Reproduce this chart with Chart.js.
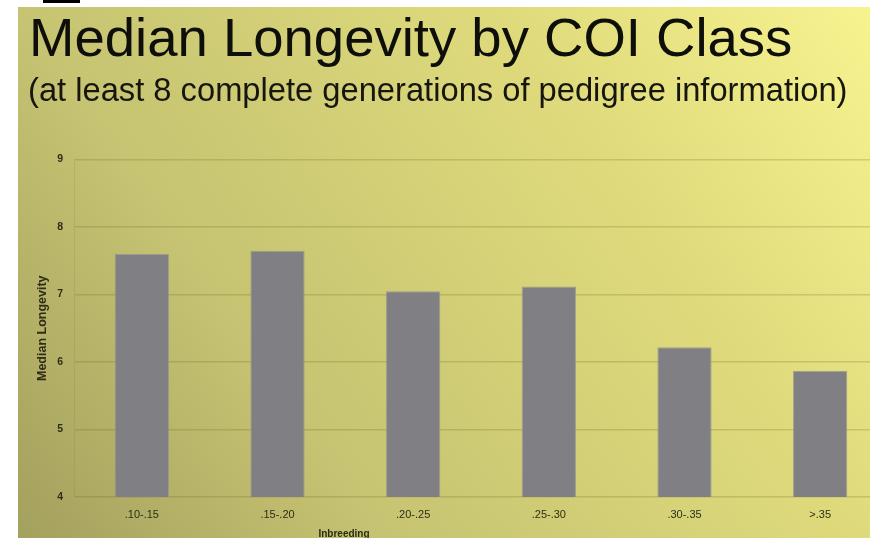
<!DOCTYPE html>
<html>
<head>
<meta charset="utf-8">
<script src="https://cdn.jsdelivr.net/npm/chart.js@4.4.1/dist/chart.umd.min.js"></script>
<style>
  html, body { margin: 0; padding: 0; background: #fff; overflow: hidden; width: 874px; height: 538px; }
  #tab { position: absolute; left: 43px; top: 0; width: 37px; height: 3px; background: #000; }
  #slide {
    position: absolute; left: 18px; top: 7px; width: 852px; height: 531px; overflow: hidden;
    background: linear-gradient(55deg, #a4a05e 0%, #c6c372 30%, #dfdb7c 70%, #f7f38f 100%);
    font-family: "Liberation Sans", Arial, sans-serif;
  }
  #title { position: absolute; left: 11px; top: 4px; font-size: 54.5px; line-height: 54px; color: #0e0e0a; white-space: nowrap; }
  #subtitle { position: absolute; left: 10px; top: 67px; font-size: 32.7px; line-height: 32px; color: #16160e; white-space: nowrap; }
  #chartBox { position: absolute; left: 0; top: 0; width: 870px; height: 531px; }
  #xTitle { position: absolute; left: 326px; top: 522px; transform: translateX(-50%); font-size: 10px; line-height: 10px; font-weight: bold; color: #2a2a14; white-space: nowrap; }
</style>
</head>
<body>
<div id="tab"></div>
<div id="slide">
  <div id="chartBox"><canvas id="chart"></canvas></div>
  <div id="title">Median Longevity by COI Class</div>
  <div id="subtitle">(at least 8 complete generations of pedigree information)</div>
  <div id="xTitle">Inbreeding</div>
</div>
<script>
// COI classes and their median longevity (years)
const categories = ['.10-.15', '.15-.20', '.20-.25', '.25-.30', '.30-.35', '>.35'];
const medianLongevity = [7.6, 7.65, 7.05, 7.12, 6.22, 5.87];
const yTicks = [4, 5, 6, 7, 8, 9];

const textColor = '#2e2e16';
const gridColor = 'rgba(100, 95, 20, 0.22)';
const family = '"Liberation Sans", Arial, sans-serif';

new Chart(document.getElementById('chart'), {
  type: 'bar',
  data: {
    labels: categories,
    datasets: [{
      data: medianLongevity,
      backgroundColor: '#7f7f84',
      borderColor: 'rgba(145, 145, 150, 0.8)',
      borderWidth: 1,
      barPercentage: 0.4,
      categoryPercentage: 1.0
    }]
  },
  options: {
    responsive: true,
    maintainAspectRatio: false,
    animation: false,
    layout: { padding: { top: 152.5, right: 0, left: 0, bottom: 0 } },
    plugins: { legend: { display: false }, tooltip: { enabled: false } },
    scales: {
      x: {
        grid: { display: false, drawTicks: false },
        border: { display: false },
        ticks: { color: textColor, font: { family, size: 11 }, padding: 11 },
        afterFit(scale) { scale.height = 41; }
      },
      y: {
        min: yTicks[0],
        max: yTicks[yTicks.length - 1],
        afterBuildTicks(scale) { scale.ticks = yTicks.map(v => ({ value: v })); },
        ticks: { color: textColor, font: { family, size: 10.5, weight: 'bold' }, padding: 11 },
        grid: { color: gridColor, lineWidth: 1.5, drawTicks: false },
        border: { display: true, color: 'rgba(100, 95, 20, 0.12)', width: 1 },
        title: {
          display: true,
          text: 'Median Longevity',
          color: textColor,
          font: { family, size: 12.5, weight: 'bold' },
          padding: { top: 17, bottom: 0 }
        },
        afterFit(scale) { scale.width = 56; }
      }
    }
  }
});
</script>
</body>
</html>
